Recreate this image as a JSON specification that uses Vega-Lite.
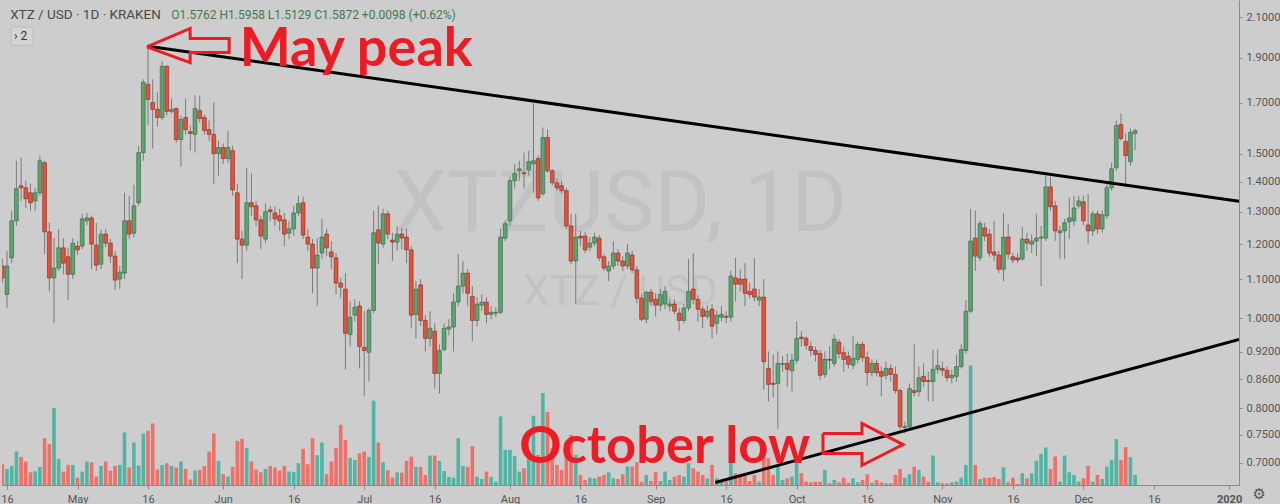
{
"$schema": "https://vega.github.io/schema/vega-lite/v6.json",
"width": 1280, "height": 504,
"padding": 0,
"autosize": {"type": "fit", "contains": "padding"},
"background": "#cdcdcd",
"config": {"view": {"stroke": null}},
"datasets": {
"candles": [
{"t":"2019-04-15","o":1.137,"h":1.157,"l":1.090,"c":1.104,"v":62},
{"t":"2019-04-16","o":1.060,"h":1.180,"l":1.025,"c":1.137,"v":48},
{"t":"2019-04-17","o":1.160,"h":1.303,"l":1.145,"c":1.271,"v":57},
{"t":"2019-04-18","o":1.271,"h":1.474,"l":1.255,"c":1.376,"v":100},
{"t":"2019-04-19","o":1.386,"h":1.485,"l":1.335,"c":1.379,"v":84},
{"t":"2019-04-20","o":1.379,"h":1.403,"l":1.312,"c":1.342,"v":70},
{"t":"2019-04-21","o":1.362,"h":1.393,"l":1.303,"c":1.329,"v":38},
{"t":"2019-04-22","o":1.335,"h":1.379,"l":1.303,"c":1.362,"v":41},
{"t":"2019-04-23","o":1.362,"h":1.493,"l":1.352,"c":1.474,"v":54},
{"t":"2019-04-24","o":1.467,"h":1.474,"l":1.171,"c":1.237,"v":140},
{"t":"2019-04-25","o":1.237,"h":1.265,"l":1.068,"c":1.104,"v":122},
{"t":"2019-04-26","o":1.104,"h":1.218,"l":0.987,"c":1.131,"v":230},
{"t":"2019-04-27","o":1.131,"h":1.246,"l":1.123,"c":1.189,"v":78},
{"t":"2019-04-28","o":1.189,"h":1.218,"l":1.114,"c":1.145,"v":40},
{"t":"2019-04-29","o":1.163,"h":1.189,"l":1.045,"c":1.114,"v":60},
{"t":"2019-04-30","o":1.114,"h":1.218,"l":1.101,"c":1.203,"v":60},
{"t":"2019-05-01","o":1.194,"h":1.209,"l":1.168,"c":1.183,"v":22},
{"t":"2019-05-02","o":1.194,"h":1.293,"l":1.185,"c":1.277,"v":40},
{"t":"2019-05-03","o":1.271,"h":1.296,"l":1.258,"c":1.280,"v":70},
{"t":"2019-05-04","o":1.280,"h":1.287,"l":1.128,"c":1.200,"v":68},
{"t":"2019-05-05","o":1.197,"h":1.265,"l":1.123,"c":1.139,"v":25},
{"t":"2019-05-06","o":1.142,"h":1.243,"l":1.128,"c":1.230,"v":57},
{"t":"2019-05-07","o":1.230,"h":1.246,"l":1.191,"c":1.203,"v":70},
{"t":"2019-05-08","o":1.203,"h":1.215,"l":1.145,"c":1.165,"v":43},
{"t":"2019-05-09","o":1.165,"h":1.180,"l":1.071,"c":1.098,"v":57},
{"t":"2019-05-10","o":1.101,"h":1.137,"l":1.074,"c":1.120,"v":60},
{"t":"2019-05-11","o":1.117,"h":1.362,"l":1.101,"c":1.271,"v":157},
{"t":"2019-05-12","o":1.271,"h":1.352,"l":1.215,"c":1.230,"v":52},
{"t":"2019-05-13","o":1.233,"h":1.389,"l":1.221,"c":1.319,"v":127},
{"t":"2019-05-14","o":1.329,"h":1.530,"l":1.319,"c":1.504,"v":58},
{"t":"2019-05-15","o":1.504,"h":1.802,"l":1.474,"c":1.789,"v":154},
{"t":"2019-05-16","o":1.780,"h":1.956,"l":1.608,"c":1.715,"v":162},
{"t":"2019-05-17","o":1.702,"h":1.802,"l":1.519,"c":1.673,"v":184},
{"t":"2019-05-18","o":1.673,"h":1.745,"l":1.604,"c":1.640,"v":46},
{"t":"2019-05-19","o":1.640,"h":1.884,"l":1.628,"c":1.861,"v":60},
{"t":"2019-05-20","o":1.861,"h":1.866,"l":1.648,"c":1.665,"v":65},
{"t":"2019-05-21","o":1.665,"h":1.719,"l":1.656,"c":1.673,"v":57},
{"t":"2019-05-22","o":1.677,"h":1.681,"l":1.542,"c":1.553,"v":52},
{"t":"2019-05-23","o":1.553,"h":1.648,"l":1.453,"c":1.632,"v":70},
{"t":"2019-05-24","o":1.640,"h":1.719,"l":1.573,"c":1.592,"v":48},
{"t":"2019-05-25","o":1.584,"h":1.608,"l":1.511,"c":1.577,"v":16},
{"t":"2019-05-26","o":1.573,"h":1.732,"l":1.504,"c":1.677,"v":43},
{"t":"2019-05-27","o":1.669,"h":1.732,"l":1.620,"c":1.636,"v":45},
{"t":"2019-05-28","o":1.640,"h":1.652,"l":1.573,"c":1.588,"v":57},
{"t":"2019-05-29","o":1.592,"h":1.628,"l":1.549,"c":1.573,"v":100},
{"t":"2019-05-30","o":1.573,"h":1.702,"l":1.393,"c":1.500,"v":154},
{"t":"2019-05-31","o":1.500,"h":1.549,"l":1.421,"c":1.523,"v":72},
{"t":"2019-06-01","o":1.523,"h":1.538,"l":1.463,"c":1.482,"v":32},
{"t":"2019-06-02","o":1.482,"h":1.588,"l":1.467,"c":1.523,"v":25},
{"t":"2019-06-03","o":1.511,"h":1.530,"l":1.352,"c":1.372,"v":54},
{"t":"2019-06-04","o":1.362,"h":1.393,"l":1.145,"c":1.215,"v":132},
{"t":"2019-06-05","o":1.215,"h":1.240,"l":1.101,"c":1.197,"v":138},
{"t":"2019-06-06","o":1.197,"h":1.449,"l":1.180,"c":1.329,"v":111},
{"t":"2019-06-07","o":1.329,"h":1.428,"l":1.287,"c":1.316,"v":70},
{"t":"2019-06-08","o":1.319,"h":1.335,"l":1.255,"c":1.274,"v":46},
{"t":"2019-06-09","o":1.274,"h":1.287,"l":1.185,"c":1.224,"v":38},
{"t":"2019-06-10","o":1.215,"h":1.326,"l":1.203,"c":1.300,"v":48},
{"t":"2019-06-11","o":1.306,"h":1.319,"l":1.271,"c":1.300,"v":57},
{"t":"2019-06-12","o":1.296,"h":1.316,"l":1.255,"c":1.277,"v":52},
{"t":"2019-06-13","o":1.287,"h":1.309,"l":1.240,"c":1.271,"v":43},
{"t":"2019-06-14","o":1.274,"h":1.296,"l":1.194,"c":1.230,"v":57},
{"t":"2019-06-15","o":1.233,"h":1.271,"l":1.215,"c":1.246,"v":40},
{"t":"2019-06-16","o":1.246,"h":1.319,"l":1.224,"c":1.296,"v":38},
{"t":"2019-06-17","o":1.296,"h":1.352,"l":1.287,"c":1.326,"v":65},
{"t":"2019-06-18","o":1.329,"h":1.349,"l":1.215,"c":1.227,"v":108},
{"t":"2019-06-19","o":1.221,"h":1.246,"l":1.180,"c":1.200,"v":62},
{"t":"2019-06-20","o":1.200,"h":1.215,"l":1.063,"c":1.131,"v":140},
{"t":"2019-06-21","o":1.131,"h":1.218,"l":1.030,"c":1.168,"v":89},
{"t":"2019-06-22","o":1.174,"h":1.277,"l":1.157,"c":1.221,"v":127},
{"t":"2019-06-23","o":1.230,"h":1.246,"l":1.165,"c":1.189,"v":32},
{"t":"2019-06-24","o":1.177,"h":1.209,"l":1.128,"c":1.163,"v":70},
{"t":"2019-06-25","o":1.160,"h":1.174,"l":1.060,"c":1.090,"v":111},
{"t":"2019-06-26","o":1.090,"h":1.104,"l":1.050,"c":1.079,"v":180},
{"t":"2019-06-27","o":1.074,"h":1.117,"l":0.881,"c":0.963,"v":135},
{"t":"2019-06-28","o":0.960,"h":1.042,"l":0.932,"c":1.002,"v":81},
{"t":"2019-06-29","o":1.007,"h":1.047,"l":0.992,"c":1.027,"v":75},
{"t":"2019-06-30","o":1.030,"h":1.042,"l":0.883,"c":0.932,"v":95},
{"t":"2019-07-01","o":0.930,"h":1.017,"l":0.824,"c":0.923,"v":100},
{"t":"2019-07-02","o":0.919,"h":1.025,"l":0.855,"c":1.019,"v":84},
{"t":"2019-07-03","o":1.019,"h":1.303,"l":1.012,"c":1.234,"v":252},
{"t":"2019-07-04","o":1.243,"h":1.319,"l":1.142,"c":1.203,"v":127},
{"t":"2019-07-05","o":1.200,"h":1.309,"l":1.189,"c":1.293,"v":68},
{"t":"2019-07-06","o":1.293,"h":1.303,"l":1.215,"c":1.230,"v":44},
{"t":"2019-07-07","o":1.212,"h":1.234,"l":1.151,"c":1.206,"v":22},
{"t":"2019-07-08","o":1.206,"h":1.255,"l":1.180,"c":1.230,"v":38},
{"t":"2019-07-09","o":1.230,"h":1.249,"l":1.185,"c":1.218,"v":37},
{"t":"2019-07-10","o":1.221,"h":1.246,"l":1.145,"c":1.183,"v":72},
{"t":"2019-07-11","o":1.183,"h":1.194,"l":0.975,"c":1.007,"v":85},
{"t":"2019-07-12","o":1.009,"h":1.095,"l":0.951,"c":1.074,"v":54},
{"t":"2019-07-13","o":1.085,"h":1.101,"l":0.980,"c":0.994,"v":54},
{"t":"2019-07-14","o":0.994,"h":1.007,"l":0.921,"c":0.951,"v":30},
{"t":"2019-07-15","o":0.951,"h":1.017,"l":0.932,"c":0.975,"v":88},
{"t":"2019-07-16","o":0.968,"h":0.987,"l":0.840,"c":0.872,"v":88},
{"t":"2019-07-17","o":0.872,"h":0.937,"l":0.830,"c":0.923,"v":72},
{"t":"2019-07-18","o":0.925,"h":0.987,"l":0.921,"c":0.975,"v":42},
{"t":"2019-07-19","o":0.973,"h":0.997,"l":0.958,"c":0.978,"v":24},
{"t":"2019-07-20","o":0.978,"h":1.063,"l":0.921,"c":1.040,"v":22},
{"t":"2019-07-21","o":1.040,"h":1.171,"l":1.030,"c":1.082,"v":140},
{"t":"2019-07-22","o":1.082,"h":1.151,"l":1.063,"c":1.117,"v":57},
{"t":"2019-07-23","o":1.117,"h":1.128,"l":1.030,"c":1.063,"v":54},
{"t":"2019-07-24","o":1.055,"h":1.082,"l":0.944,"c":0.994,"v":116},
{"t":"2019-07-25","o":0.994,"h":1.053,"l":0.980,"c":1.035,"v":25},
{"t":"2019-07-26","o":1.032,"h":1.060,"l":1.017,"c":1.040,"v":18},
{"t":"2019-07-27","o":1.040,"h":1.053,"l":0.987,"c":1.009,"v":40},
{"t":"2019-07-28","o":1.009,"h":1.030,"l":0.997,"c":1.014,"v":24},
{"t":"2019-07-29","o":1.012,"h":1.027,"l":1.002,"c":1.014,"v":10},
{"t":"2019-07-30","o":1.014,"h":1.246,"l":1.009,"c":1.221,"v":205},
{"t":"2019-07-31","o":1.218,"h":1.271,"l":1.209,"c":1.262,"v":105},
{"t":"2019-08-01","o":1.271,"h":1.417,"l":1.255,"c":1.403,"v":105},
{"t":"2019-08-02","o":1.403,"h":1.463,"l":1.376,"c":1.428,"v":87},
{"t":"2019-08-03","o":1.438,"h":1.474,"l":1.403,"c":1.445,"v":40},
{"t":"2019-08-04","o":1.431,"h":1.504,"l":1.376,"c":1.428,"v":50},
{"t":"2019-08-05","o":1.441,"h":1.511,"l":1.421,"c":1.471,"v":100},
{"t":"2019-08-06","o":1.463,"h":1.698,"l":1.362,"c":1.474,"v":207},
{"t":"2019-08-07","o":1.482,"h":1.493,"l":1.335,"c":1.345,"v":90},
{"t":"2019-08-08","o":1.359,"h":1.600,"l":1.352,"c":1.561,"v":275},
{"t":"2019-08-09","o":1.561,"h":1.592,"l":1.431,"c":1.438,"v":218},
{"t":"2019-08-10","o":1.438,"h":1.445,"l":1.386,"c":1.396,"v":110},
{"t":"2019-08-11","o":1.396,"h":1.410,"l":1.369,"c":1.379,"v":60},
{"t":"2019-08-12","o":1.386,"h":1.403,"l":1.359,"c":1.369,"v":45},
{"t":"2019-08-13","o":1.369,"h":1.379,"l":1.246,"c":1.255,"v":130},
{"t":"2019-08-14","o":1.255,"h":1.293,"l":1.142,"c":1.151,"v":150},
{"t":"2019-08-15","o":1.151,"h":1.293,"l":1.035,"c":1.221,"v":90},
{"t":"2019-08-16","o":1.224,"h":1.240,"l":1.194,"c":1.218,"v":30},
{"t":"2019-08-17","o":1.224,"h":1.237,"l":1.174,"c":1.183,"v":15},
{"t":"2019-08-18","o":1.191,"h":1.221,"l":1.180,"c":1.203,"v":22},
{"t":"2019-08-19","o":1.203,"h":1.234,"l":1.194,"c":1.221,"v":20},
{"t":"2019-08-20","o":1.218,"h":1.227,"l":1.151,"c":1.160,"v":25},
{"t":"2019-08-21","o":1.163,"h":1.171,"l":1.123,"c":1.131,"v":30},
{"t":"2019-08-22","o":1.123,"h":1.151,"l":1.095,"c":1.137,"v":38},
{"t":"2019-08-23","o":1.137,"h":1.209,"l":1.128,"c":1.174,"v":20},
{"t":"2019-08-24","o":1.174,"h":1.185,"l":1.137,"c":1.151,"v":18},
{"t":"2019-08-25","o":1.151,"h":1.165,"l":1.123,"c":1.137,"v":32},
{"t":"2019-08-26","o":1.137,"h":1.200,"l":1.128,"c":1.174,"v":55},
{"t":"2019-08-27","o":1.168,"h":1.180,"l":1.117,"c":1.126,"v":55},
{"t":"2019-08-28","o":1.126,"h":1.137,"l":1.037,"c":1.050,"v":68},
{"t":"2019-08-29","o":1.050,"h":1.060,"l":0.992,"c":0.997,"v":10},
{"t":"2019-08-30","o":0.997,"h":1.068,"l":0.987,"c":1.066,"v":30},
{"t":"2019-08-31","o":1.066,"h":1.074,"l":1.030,"c":1.042,"v":12},
{"t":"2019-09-01","o":1.047,"h":1.063,"l":1.004,"c":1.032,"v":38},
{"t":"2019-09-02","o":1.032,"h":1.074,"l":1.017,"c":1.060,"v":12},
{"t":"2019-09-03","o":1.035,"h":1.082,"l":1.022,"c":1.068,"v":40},
{"t":"2019-09-04","o":1.030,"h":1.047,"l":1.017,"c":1.035,"v":15},
{"t":"2019-09-05","o":1.035,"h":1.047,"l":1.009,"c":1.017,"v":25},
{"t":"2019-09-06","o":1.012,"h":1.025,"l":0.968,"c":0.994,"v":30},
{"t":"2019-09-07","o":0.994,"h":1.035,"l":0.987,"c":1.025,"v":25},
{"t":"2019-09-08","o":1.025,"h":1.157,"l":1.017,"c":1.068,"v":65},
{"t":"2019-09-09","o":1.074,"h":1.174,"l":1.035,"c":1.047,"v":50},
{"t":"2019-09-10","o":1.047,"h":1.058,"l":0.992,"c":1.022,"v":40},
{"t":"2019-09-11","o":1.022,"h":1.030,"l":0.975,"c":1.004,"v":30},
{"t":"2019-09-12","o":1.004,"h":1.032,"l":0.997,"c":1.017,"v":20},
{"t":"2019-09-13","o":1.022,"h":1.035,"l":0.951,"c":0.980,"v":60},
{"t":"2019-09-14","o":0.987,"h":1.019,"l":0.960,"c":1.007,"v":20},
{"t":"2019-09-15","o":1.002,"h":1.030,"l":0.992,"c":1.009,"v":15},
{"t":"2019-09-16","o":1.004,"h":1.017,"l":0.987,"c":1.002,"v":10},
{"t":"2019-09-17","o":1.002,"h":1.123,"l":0.992,"c":1.109,"v":70},
{"t":"2019-09-18","o":1.104,"h":1.160,"l":1.042,"c":1.087,"v":35},
{"t":"2019-09-19","o":1.101,"h":1.128,"l":1.068,"c":1.087,"v":25},
{"t":"2019-09-20","o":1.101,"h":1.145,"l":1.030,"c":1.063,"v":30},
{"t":"2019-09-21","o":1.068,"h":1.090,"l":1.050,"c":1.060,"v":12},
{"t":"2019-09-22","o":1.074,"h":1.160,"l":1.042,"c":1.053,"v":30},
{"t":"2019-09-23","o":1.045,"h":1.074,"l":1.030,"c":1.053,"v":10},
{"t":"2019-09-24","o":1.053,"h":1.101,"l":0.838,"c":0.898,"v":120},
{"t":"2019-09-25","o":0.883,"h":0.921,"l":0.814,"c":0.849,"v":80},
{"t":"2019-09-26","o":0.851,"h":0.914,"l":0.822,"c":0.849,"v":30},
{"t":"2019-09-27","o":0.851,"h":0.921,"l":0.761,"c":0.894,"v":60},
{"t":"2019-09-28","o":0.892,"h":0.910,"l":0.876,"c":0.894,"v":15},
{"t":"2019-09-29","o":0.894,"h":0.916,"l":0.844,"c":0.881,"v":20},
{"t":"2019-09-30","o":0.878,"h":0.916,"l":0.834,"c":0.901,"v":25},
{"t":"2019-10-01","o":0.901,"h":0.992,"l":0.894,"c":0.951,"v":75},
{"t":"2019-10-02","o":0.954,"h":0.968,"l":0.932,"c":0.951,"v":35},
{"t":"2019-10-03","o":0.951,"h":0.956,"l":0.925,"c":0.935,"v":10},
{"t":"2019-10-04","o":0.932,"h":0.944,"l":0.910,"c":0.923,"v":8},
{"t":"2019-10-05","o":0.923,"h":0.932,"l":0.898,"c":0.914,"v":10},
{"t":"2019-10-06","o":0.916,"h":0.925,"l":0.859,"c":0.868,"v":10},
{"t":"2019-10-07","o":0.870,"h":0.921,"l":0.863,"c":0.903,"v":45},
{"t":"2019-10-08","o":0.903,"h":0.932,"l":0.881,"c":0.901,"v":5},
{"t":"2019-10-09","o":0.894,"h":0.960,"l":0.887,"c":0.949,"v":15},
{"t":"2019-10-10","o":0.942,"h":0.949,"l":0.905,"c":0.916,"v":8},
{"t":"2019-10-11","o":0.918,"h":0.932,"l":0.876,"c":0.903,"v":22},
{"t":"2019-10-12","o":0.910,"h":0.921,"l":0.883,"c":0.892,"v":7},
{"t":"2019-10-13","o":0.890,"h":0.956,"l":0.881,"c":0.905,"v":20},
{"t":"2019-10-14","o":0.903,"h":0.944,"l":0.894,"c":0.937,"v":8},
{"t":"2019-10-15","o":0.937,"h":0.944,"l":0.898,"c":0.907,"v":15},
{"t":"2019-10-16","o":0.907,"h":0.921,"l":0.846,"c":0.874,"v":32},
{"t":"2019-10-17","o":0.874,"h":0.903,"l":0.866,"c":0.894,"v":7},
{"t":"2019-10-18","o":0.894,"h":0.903,"l":0.866,"c":0.874,"v":15},
{"t":"2019-10-19","o":0.876,"h":0.887,"l":0.824,"c":0.866,"v":8},
{"t":"2019-10-20","o":0.868,"h":0.898,"l":0.859,"c":0.883,"v":5},
{"t":"2019-10-21","o":0.883,"h":0.892,"l":0.855,"c":0.870,"v":5},
{"t":"2019-10-22","o":0.870,"h":0.887,"l":0.830,"c":0.836,"v":30},
{"t":"2019-10-23","o":0.836,"h":0.840,"l":0.760,"c":0.765,"v":48},
{"t":"2019-10-24","o":0.763,"h":0.774,"l":0.752,"c":0.765,"v":22},
{"t":"2019-10-25","o":0.765,"h":0.851,"l":0.760,"c":0.840,"v":32},
{"t":"2019-10-26","o":0.836,"h":0.937,"l":0.824,"c":0.832,"v":55},
{"t":"2019-10-27","o":0.834,"h":0.887,"l":0.824,"c":0.863,"v":45},
{"t":"2019-10-28","o":0.866,"h":0.894,"l":0.844,"c":0.855,"v":25},
{"t":"2019-10-29","o":0.857,"h":0.876,"l":0.814,"c":0.855,"v":10},
{"t":"2019-10-30","o":0.855,"h":0.925,"l":0.814,"c":0.881,"v":88},
{"t":"2019-10-31","o":0.881,"h":0.925,"l":0.872,"c":0.889,"v":8},
{"t":"2019-11-01","o":0.883,"h":0.898,"l":0.866,"c":0.879,"v":5},
{"t":"2019-11-02","o":0.879,"h":0.887,"l":0.855,"c":0.863,"v":5},
{"t":"2019-11-03","o":0.863,"h":0.881,"l":0.851,"c":0.868,"v":8},
{"t":"2019-11-04","o":0.866,"h":0.914,"l":0.855,"c":0.887,"v":10},
{"t":"2019-11-05","o":0.887,"h":0.937,"l":0.883,"c":0.925,"v":22},
{"t":"2019-11-06","o":0.923,"h":1.045,"l":0.916,"c":1.017,"v":60},
{"t":"2019-11-07","o":1.017,"h":1.309,"l":1.012,"c":1.209,"v":357},
{"t":"2019-11-08","o":1.218,"h":1.303,"l":1.123,"c":1.165,"v":60},
{"t":"2019-11-09","o":1.160,"h":1.271,"l":1.151,"c":1.262,"v":18},
{"t":"2019-11-10","o":1.249,"h":1.265,"l":1.209,"c":1.224,"v":22},
{"t":"2019-11-11","o":1.230,"h":1.246,"l":1.163,"c":1.174,"v":22},
{"t":"2019-11-12","o":1.177,"h":1.271,"l":1.151,"c":1.168,"v":24},
{"t":"2019-11-13","o":1.168,"h":1.180,"l":1.117,"c":1.128,"v":18},
{"t":"2019-11-14","o":1.128,"h":1.296,"l":1.095,"c":1.221,"v":53},
{"t":"2019-11-15","o":1.221,"h":1.262,"l":1.157,"c":1.171,"v":8},
{"t":"2019-11-16","o":1.163,"h":1.174,"l":1.145,"c":1.154,"v":22},
{"t":"2019-11-17","o":1.160,"h":1.174,"l":1.145,"c":1.154,"v":3},
{"t":"2019-11-18","o":1.157,"h":1.252,"l":1.151,"c":1.215,"v":35},
{"t":"2019-11-19","o":1.215,"h":1.234,"l":1.180,"c":1.203,"v":20},
{"t":"2019-11-20","o":1.200,"h":1.230,"l":1.174,"c":1.209,"v":35},
{"t":"2019-11-21","o":1.209,"h":1.293,"l":1.165,"c":1.218,"v":72},
{"t":"2019-11-22","o":1.218,"h":1.255,"l":1.082,"c":1.221,"v":93},
{"t":"2019-11-23","o":1.218,"h":1.421,"l":1.209,"c":1.382,"v":112},
{"t":"2019-11-24","o":1.382,"h":1.417,"l":1.303,"c":1.316,"v":48},
{"t":"2019-11-25","o":1.319,"h":1.335,"l":1.209,"c":1.240,"v":85},
{"t":"2019-11-26","o":1.234,"h":1.255,"l":1.157,"c":1.240,"v":10},
{"t":"2019-11-27","o":1.240,"h":1.277,"l":1.157,"c":1.265,"v":88},
{"t":"2019-11-28","o":1.268,"h":1.345,"l":1.215,"c":1.280,"v":38},
{"t":"2019-11-29","o":1.271,"h":1.352,"l":1.255,"c":1.312,"v":30},
{"t":"2019-11-30","o":1.319,"h":1.352,"l":1.309,"c":1.335,"v":10},
{"t":"2019-12-01","o":1.332,"h":1.352,"l":1.258,"c":1.271,"v":20},
{"t":"2019-12-02","o":1.258,"h":1.359,"l":1.200,"c":1.240,"v":57},
{"t":"2019-12-03","o":1.240,"h":1.303,"l":1.224,"c":1.293,"v":10},
{"t":"2019-12-04","o":1.293,"h":1.303,"l":1.230,"c":1.246,"v":30},
{"t":"2019-12-05","o":1.246,"h":1.303,"l":1.234,"c":1.290,"v":18},
{"t":"2019-12-06","o":1.287,"h":1.393,"l":1.277,"c":1.379,"v":55},
{"t":"2019-12-07","o":1.379,"h":1.467,"l":1.369,"c":1.445,"v":75},
{"t":"2019-12-08","o":1.449,"h":1.628,"l":1.438,"c":1.608,"v":137},
{"t":"2019-12-09","o":1.612,"h":1.656,"l":1.549,"c":1.557,"v":75},
{"t":"2019-12-10","o":1.546,"h":1.577,"l":1.382,"c":1.493,"v":113},
{"t":"2019-12-11","o":1.471,"h":1.596,"l":1.456,"c":1.581,"v":83},
{"t":"2019-12-12","o":1.5762,"h":1.5958,"l":1.5129,"c":1.5872,"v":30}
],
"trend": [
{"id":"upper","t":"2019-05-16T00:00:00Z","p":1.9556},
{"id":"upper","t":"2020-01-03T02:30:00Z","p":1.3337},
{"id":"lower","t":"2019-09-13T17:00:00Z","p":0.6664},
{"id":"lower","t":"2020-01-03T02:30:00Z","p":0.9486}
],
"arrows": [
{"id":"may","i":0,"t":"2019-05-15T18:15:00Z","p":1.9523},
{"id":"may","i":1,"t":"2019-05-24T23:15:00Z","p":2.0433},
{"id":"may","i":2,"t":"2019-05-24T23:15:00Z","p":1.9934},
{"id":"may","i":3,"t":"2019-06-02T06:15:00Z","p":1.9934},
{"id":"may","i":4,"t":"2019-06-02T06:15:00Z","p":1.9254},
{"id":"may","i":5,"t":"2019-05-24T23:15:00Z","p":1.9254},
{"id":"may","i":6,"t":"2019-05-24T23:15:00Z","p":1.8783},
{"id":"may","i":7,"t":"2019-05-15T18:15:00Z","p":1.9523},
{"id":"oct","i":0,"t":"2019-10-06T14:25:00Z","p":0.7521},
{"id":"oct","i":1,"t":"2019-10-14T21:35:00Z","p":0.7521},
{"id":"oct","i":2,"t":"2019-10-14T21:35:00Z","p":0.7709},
{"id":"oct","i":3,"t":"2019-10-23T14:55:00Z","p":0.7318},
{"id":"oct","i":4,"t":"2019-10-14T21:35:00Z","p":0.6954},
{"id":"oct","i":5,"t":"2019-10-14T21:35:00Z","p":0.7157},
{"id":"oct","i":6,"t":"2019-10-06T14:25:00Z","p":0.7157},
{"id":"oct","i":7,"t":"2019-10-06T14:25:00Z","p":0.7521}
],
"noteMay": [{"t":"2019-06-04T12:00:00Z","p":1.8610,"s":"May peak"}],
"noteOct": [{"t":"2019-08-03T00:00:00Z","p":0.7000,"s":"October low"}],
"mark1": [{"t":"2019-08-24T12:00:00Z","p":1.2390,"s":"XTZUSD, 1D"}],
"mark2": [{"t":"2019-08-24T12:00:00Z","p":1.0330,"s":"XTZ / USD"}],
"head": [{"t":"2019-04-16T16:00:00Z","p":2.0910,"s":"XTZ / USD · 1D · KRAKEN"}],
"ohlc": [{"t":"2019-05-20T23:00:00Z","p":2.0910,"s":"O1.5762  H1.5958  L1.5129  C1.5872  +0.0098 (+0.62%)"}],
"btn": [{"t":"2019-04-16T20:25:00Z","t2":"2019-04-21T12:40:00Z","p":2.050,"p2":1.9605}],
"btntext": [{"t":"2019-04-17T12:00:00Z","p":2.005,"s":"›  2"}],
"gear": [{"t":"2020-01-07T09:30:00Z","p":0.6398,"s":"⚙"}]
},
"encoding": {
"x": {"field": "t", "type": "temporal", "scale": {"type": "utc", "domain": [1555281000000, 1578018600000], "padding": 0},
  "axis": {"values": [1555372800000,1556668800000,1557964800000,1559347200000,1560643200000,1561939200000,1563235200000,1564617600000,1565913600000,1567296000000,1568592000000,1569888000000,1571184000000,1572566400000,1573862400000,1575158400000,1576454400000,1577836800000],
   "labelExpr": "utcdate(datum.value) == 1 ? (utcmonth(datum.value) == 0 ? utcFormat(datum.value, '%Y') : utcFormat(datum.value, '%b')) : utcFormat(datum.value, '%d')",
   "title": null, "grid": false, "domainColor": "#8a8a8a", "tickColor": "#8a8a8a", "tickSize": 4, "labelPadding": 4,
   "labelColor": "#555555", "labelFont": "Roboto", "labelFontSize": 11, "labelOverlap": false,
   "labelFontWeight": {"condition": {"test": "utcmonth(datum.value) == 0", "value": "bold"}, "value": "normal"}}}
},
"layer": [
{
"data": {"name": "candles"},
"mark": {"type": "bar", "size": 3.6, "clip": true},
"encoding": {
"y": {"field": "v", "type": "quantitative", "scale": {"domain": [0, 1449]}, "axis": null},
"color": {"condition": {"test": "datum.c >= datum.o", "value": "#4fb5a4"}, "value": "#ef7069"}
}
},
{
"layer": [
{
"data": {"name": "mark1"},
"mark": {"type": "text", "font": "Roboto", "fontSize": 85, "fill": "#c2c2c2", "align": "center", "baseline": "alphabetic"},
"encoding": {
"y": {"field": "p", "type": "quantitative", "scale": {"type": "log", "domain": [0.6623, 2.1917], "nice": false, "zero": false},
  "axis": {"orient": "right", "values": [0.7,0.75,0.8,0.86,0.92,1,1.1,1.2,1.3,1.4,1.5,1.7,1.9,2.1], "format": ".4f", "title": null, "grid": false,
   "tickSize": 3, "labelPadding": 4, "labelColor": "#555555", "labelFont": "Roboto", "labelFontSize": 11, "domainColor": "#8a8a8a", "tickColor": "#8a8a8a", "labelOverlap": false}},
"text": {"field": "s"}
}
},
{
"data": {"name": "mark2"},
"mark": {"type": "text", "font": "Roboto", "fontSize": 42, "fill": "#c2c2c2", "align": "center", "baseline": "alphabetic"},
"encoding": {
"y": {"field": "p", "type": "quantitative"},
"text": {"field": "s"}
}
},
{
"data": {"name": "candles"},
"mark": {"type": "rule", "color": "#7a7a7a", "strokeWidth": 1, "clip": true},
"encoding": {
"y": {"field": "l", "type": "quantitative"},
"y2": {"field": "h"}
}
},
{
"data": {"name": "candles"},
"mark": {"type": "bar", "size": 3.8, "strokeWidth": 0.6, "clip": true},
"encoding": {
"y": {"field": "o", "type": "quantitative"},
"y2": {"field": "c"},
"fill": {"condition": {"test": "datum.c >= datum.o", "value": "#5da271"}, "value": "#e0533e"},
"stroke": {"condition": {"test": "datum.c >= datum.o", "value": "#2d6640"}, "value": "#85281b"}
}
},
{
"data": {"name": "trend"},
"mark": {"type": "line", "color": "#000000", "strokeWidth": 3, "clip": true},
"encoding": {
"y": {"field": "p", "type": "quantitative"},
"detail": {"field": "id"}
}
},
{
"data": {"name": "arrows"},
"mark": {"type": "line", "color": "#ed1c24", "strokeWidth": 3, "strokeJoin": "miter"},
"encoding": {
"y": {"field": "p", "type": "quantitative"},
"detail": {"field": "id"},
"order": {"field": "i"}
}
},
{
"data": {"name": "noteMay"},
"mark": {"type": "text", "font": "Lato", "fontWeight": "bold", "fontSize": 54, "fill": "#ed1c24", "align": "left", "baseline": "alphabetic"},
"encoding": {
"y": {"field": "p", "type": "quantitative"},
"text": {"field": "s"}
}
},
{
"data": {"name": "noteOct"},
"mark": {"type": "text", "font": "Lato", "fontWeight": "bold", "fontSize": 52.5, "fill": "#ed1c24", "align": "left", "baseline": "alphabetic"},
"encoding": {
"y": {"field": "p", "type": "quantitative"},
"text": {"field": "s"}
}
},
{
"data": {"name": "btn"},
"mark": {"type": "rect", "fill": "#d4d4d4", "stroke": "#bdbdbd", "strokeWidth": 1, "cornerRadius": 3},
"encoding": {
"x2": {"field": "t2"},
"y": {"field": "p", "type": "quantitative"},
"y2": {"field": "p2"}
}
},
{
"data": {"name": "btntext"},
"mark": {"type": "text", "font": "Roboto", "fontSize": 12, "fill": "#333333", "align": "left", "baseline": "middle"},
"encoding": {
"y": {"field": "p", "type": "quantitative"},
"text": {"field": "s"}
}
},
{
"data": {"name": "head"},
"mark": {"type": "text", "font": "Roboto", "fontSize": 13.5, "fill": "#4a4a4a", "align": "left", "baseline": "alphabetic"},
"encoding": {
"y": {"field": "p", "type": "quantitative"},
"text": {"field": "s"}
}
},
{
"data": {"name": "ohlc"},
"mark": {"type": "text", "font": "Roboto", "fontSize": 12, "fill": "#3f7a4f", "align": "left", "baseline": "alphabetic"},
"encoding": {
"y": {"field": "p", "type": "quantitative"},
"text": {"field": "s"}
}
},
{
"data": {"name": "gear"},
"mark": {"type": "text", "font": "DejaVu Sans", "fontSize": 15, "fill": "#555555", "align": "center", "baseline": "alphabetic"},
"encoding": {
"y": {"field": "p", "type": "quantitative"},
"text": {"field": "s"}
}
}
]
}
],
"resolve": {"scale": {"y": "independent"}}
}
